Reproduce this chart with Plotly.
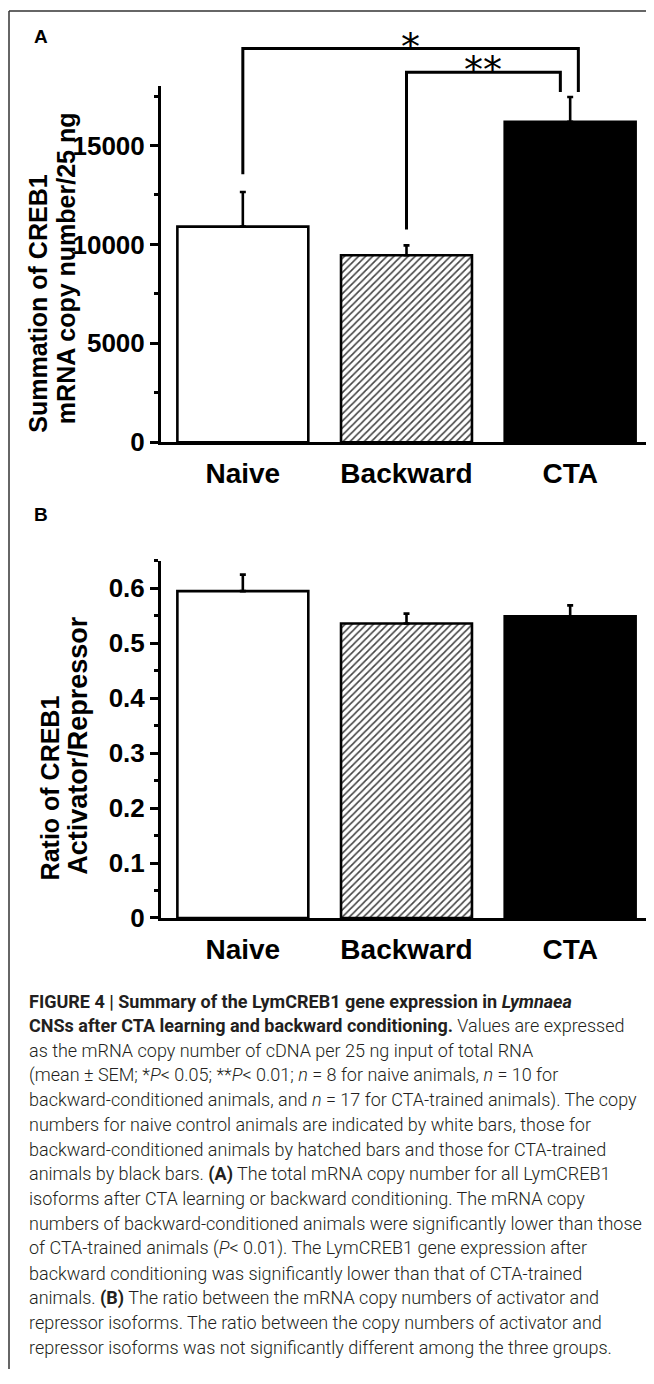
import plotly.graph_objects as go

# reference canvas is 654x1384; the page adds an 8px body margin, so the figure
# itself is 8px smaller and all reference pixel positions are shifted by 8.
REF_W, REF_H = 654, 1384
OFF = 8
W, H = REF_W - OFF, REF_H - OFF

categories = ["Naive", "Backward", "CTA"]
copy_mean = [10900, 9450, 16200]
copy_sem = [1750, 500, 1250]
ratio_mean = [0.595, 0.536, 0.549]
ratio_sem = [0.030, 0.018, 0.020]

bar_colors = ["white", "white", "black"]
bar_patterns = ["", "/", ""]

sig_labels = ["*", "**"]

caption_lines = [
    "<b>FIGURE 4 | Summary of the LymCREB1 gene expression in <i>Lymnaea</i></b>",
    "<b>CNSs after CTA learning and backward conditioning.</b> Values are expressed",
    "as the mRNA copy number of cDNA per 25 ng input of total RNA",
    "(mean ± SEM; *<i>P</i>< 0.05; **<i>P</i>< 0.01; <i>n</i> = 8 for naive animals, <i>n</i> = 10 for",
    "backward-conditioned animals, and <i>n</i> = 17 for CTA-trained animals). The copy",
    "numbers for naive control animals are indicated by white bars, those for",
    "backward-conditioned animals by hatched bars and those for CTA-trained",
    "animals by black bars. <b>(A)</b> The total mRNA copy number for all LymCREB1",
    "isoforms after CTA learning or backward conditioning. The mRNA copy",
    "numbers of backward-conditioned animals were significantly lower than those",
    "of CTA-trained animals (<i>P</i>< 0.01). The LymCREB1 gene expression after",
    "backward conditioning was significantly lower than that of CTA-trained",
    "animals. <b>(B)</b> The ratio between the mRNA copy numbers of activator and",
    "repressor isoforms. The ratio between the copy numbers of activator and",
    "repressor isoforms was not significantly different among the three groups.",
]

def px(x):
    return (x - OFF) / W

def py(y):
    return 1 - (y - OFF) / H

FONT = "Liberation Sans, Arial, sans-serif"
CAPFONT = "Roboto, Liberation Sans, sans-serif"

X_DOM = [px(161), px(652)]
YA_RANGE = [0, 18000]
YB_RANGE = [0, 0.65]
YA_DOM = [py(447), py(87)]
YB_DOM = [py(928), py(567)]

fig = go.Figure()

bar_marker = dict(color=bar_colors, line=dict(color="black", width=2.6),
                  pattern=dict(shape=bar_patterns, fgcolor="#8c8c8c", bgcolor="white",
                               size=5, solidity=0.32, fgopacity=1))

fig.add_trace(go.Bar(
    x=categories, y=copy_mean, xaxis="x", yaxis="y", width=0.8, marker=bar_marker,
    error_y=dict(type="data", array=copy_sem, arrayminus=[0, 0, 0], symmetric=False,
                 color="black", thickness=2.6, width=3),
))
fig.add_trace(go.Bar(
    x=categories, y=ratio_mean, xaxis="x2", yaxis="y2", width=0.8, marker=bar_marker,
    error_y=dict(type="data", array=ratio_sem, arrayminus=[0, 0, 0], symmetric=False,
                 color="black", thickness=2.6, width=3),
))

xcommon = dict(range=[-0.5, 2.5], domain=X_DOM, showline=True, linewidth=3, linecolor="black",
               ticks="", showgrid=False, zeroline=False,
               tickfont=dict(family=FONT, size=28, color="black", weight="bold"),
               ticklabelstandoff=4)
ycommon = dict(showline=True, linewidth=3, linecolor="black", ticks="outside", ticklen=8,
               tickwidth=3, tickcolor="black", showgrid=False, zeroline=False,
               tickfont=dict(family=FONT, size=26, color="black", weight="bold"))

fig.update_layout(
    width=W, height=H, margin=dict(l=0, r=0, t=0, b=0),
    paper_bgcolor="white", plot_bgcolor="white", showlegend=False, bargap=0.2,
    xaxis=dict(anchor="y", **xcommon),
    yaxis=dict(anchor="x", domain=YA_DOM, range=YA_RANGE,
               tickvals=[0, 5000, 10000, 15000], ticktext=["0", "5000", "10000", "15000"],
               minor=dict(tickvals=[2500, 7500, 12500, 17500], ticklen=4, tickwidth=3,
                          tickcolor="black", ticks="outside"),
               **ycommon),
    xaxis2=dict(anchor="y2", **xcommon),
    yaxis2=dict(anchor="x2", domain=YB_DOM, range=YB_RANGE,
                tickvals=[0, 0.1, 0.2, 0.3, 0.4, 0.5, 0.6],
                ticktext=["0", "0.1", "0.2", "0.3", "0.4", "0.5", "0.6"],
                minor=dict(tickvals=[0.05, 0.15, 0.25, 0.35, 0.45, 0.55, 0.65], ticklen=4,
                           tickwidth=3, tickcolor="black", ticks="outside"),
                **ycommon),
)

# helpers: data -> axis-domain fraction (panel A)
def xd(i):
    return (i + 0.5) / 3.0

def yd(v):
    return v / YA_RANGE[1]

idx = {c: i for i, c in enumerate(categories)}
top_a = [m + s for m, s in zip(copy_mean, copy_sem)]

brackets = [
    dict(l=idx["Naive"], r=idx["CTA"] + 0.05, y0=top_a[0] + 900, lvl=19900, y1=top_a[2] + 250, lab=sig_labels[0]),
    dict(l=idx["Backward"], r=idx["CTA"] - 0.06, y0=top_a[1] + 800, lvl=18700, y1=top_a[2] + 250, lab=sig_labels[1]),
]
for b in brackets:
    path = (f"M {xd(b['l'])} {yd(b['y0'])} L {xd(b['l'])} {yd(b['lvl'])} "
            f"L {xd(b['r'])} {yd(b['lvl'])} L {xd(b['r'])} {yd(b['y1'])}")
    fig.add_shape(type="path", path=path, xref="x domain", yref="y domain",
                  line=dict(color="black", width=3))
    fig.add_annotation(x=(xd(b['l']) + xd(b['r'])) / 2, y=yd(b['lvl']), xref="x domain",
                       yref="y domain", text=b['lab'], showarrow=False, yanchor="bottom",
                       yshift=-22, font=dict(family="DejaVu Sans", size=38, color="black"))

# panel letters
fig.add_annotation(x=px(32), y=py(37), xref="paper", yref="paper", text="<b>A</b>",
                   showarrow=False, xanchor="left", yanchor="middle",
                   font=dict(family=FONT, size=19, color="black"))
fig.add_annotation(x=px(32), y=py(520), xref="paper", yref="paper", text="<b>B</b>",
                   showarrow=False, xanchor="left", yanchor="middle",
                   font=dict(family=FONT, size=19, color="black"))

# y-axis titles (two lines each)
ytitles = [
    ("Summation of CREB1", 38, 307, 25), ("mRNA copy number/25 ng", 66, 271, 25),
    ("Ratio of CREB1", 50, 797, 25), ("Activator/Repressor", 78, 754, 27),
]
for t, x, y, s in ytitles:
    fig.add_annotation(x=px(x), y=py(y), xref="paper", yref="paper", text=t, textangle=-90,
                       showarrow=False, xanchor="center", yanchor="middle",
                       font=dict(family=FONT, size=s, color="black", weight="bold"))

# caption
y0, dy = 1012, 25
for i, line in enumerate(caption_lines):
    fig.add_annotation(x=px(27), y=py(y0 + i * dy), xref="paper", yref="paper", text=line,
                       showarrow=False, xanchor="left", yanchor="middle",
                       font=dict(family=CAPFONT, size=18, color="#231f20", weight=300))

# frame lines
fig.add_shape(type="line", xref="paper", yref="paper", x0=px(9), x1=px(9), y0=py(11), y1=0,
              line=dict(color="#333", width=1.5))
fig.add_shape(type="line", xref="paper", yref="paper", x0=px(9), x1=1, y0=py(11), y1=py(11),
              line=dict(color="#333", width=1.5))

fig.write_html("out.html")
